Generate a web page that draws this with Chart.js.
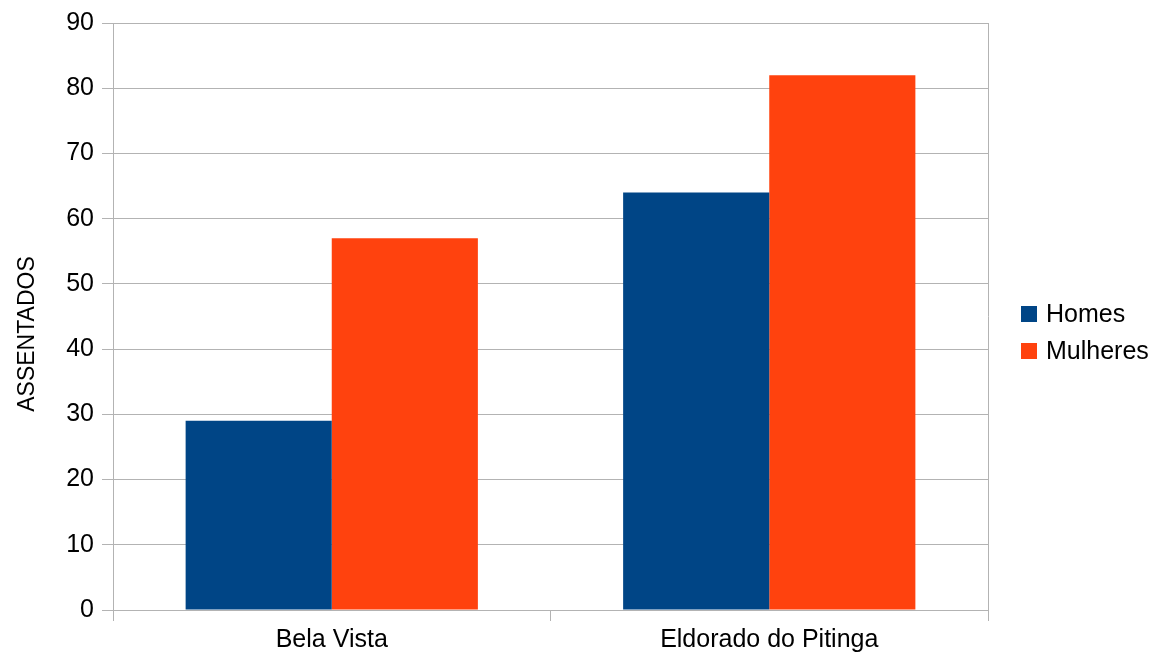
<!DOCTYPE html>
<html>
<head>
<meta charset="utf-8">
<title>Assentados</title>
<script src="https://cdn.jsdelivr.net/npm/chart.js@4.4.1/dist/chart.umd.min.js"></script>
<style>
  html, body { margin: 0; padding: 0; background: #ffffff; }
  #wrap { width: 1160px; height: 661px; position: relative; }
</style>
</head>
<body>
<div id="wrap"><canvas id="chart" width="1160" height="661"></canvas></div>
<script>
// Settlement names and headcounts by sex
const categories = ['Bela Vista', 'Eldorado do Pitinga'];
const homes = [29, 64];
const mulheres = [57, 82];
const seriesNames = ['Homes', 'Mulheres'];
const yTicks = [0, 10, 20, 30, 40, 50, 60, 70, 80, 90];
const axisTitle = 'ASSENTADOS';

const FONT = '"Liberation Sans", Arial, sans-serif';
const GRID = '#b3b3b3';
const COLORS = ['#004586', '#ff420e'];

// Legend on the right, drawn from the dataset list
const sideLegend = {
  id: 'sideLegend',
  afterDraw(chart) {
    const ctx = chart.ctx;
    const x0 = 1021, yc = [314, 351];
    ctx.save();
    ctx.font = '25px ' + FONT;
    ctx.textBaseline = 'middle';
    ctx.textAlign = 'left';
    chart.data.datasets.forEach((ds, i) => {
      ctx.fillStyle = ds.backgroundColor;
      ctx.fillRect(x0, yc[i] - 8, 16, 16);
      ctx.fillStyle = '#000000';
      ctx.fillText(ds.label, x0 + 25, yc[i] + 1);
    });
    ctx.restore();
  }
};

// Vertical axis title
const yTitle = {
  id: 'yTitle',
  afterDraw(chart) {
    const ctx = chart.ctx;
    ctx.save();
    ctx.translate(28, 334);
    ctx.rotate(-Math.PI / 2);
    ctx.font = '23px ' + FONT;
    ctx.fillStyle = '#000000';
    ctx.textAlign = 'center';
    ctx.textBaseline = 'middle';
    ctx.fillText(axisTitle, 0, 0);
    ctx.restore();
  }
};

new Chart(document.getElementById('chart'), {
  type: 'bar',
  data: {
    labels: categories,
    datasets: [
      { label: seriesNames[0], data: homes, backgroundColor: COLORS[0] },
      { label: seriesNames[1], data: mulheres, backgroundColor: COLORS[1] }
    ]
  },
  options: {
    responsive: false,
    animation: false,
    devicePixelRatio: 1,
    layout: { padding: { top: 20.5, right: 172, bottom: 0, left: 0 } },
    datasets: {
      bar: { categoryPercentage: 0.668, barPercentage: 1.0, borderWidth: 0 }
    },
    plugins: {
      legend: { display: false },
      tooltip: { enabled: false },
      title: { display: false }
    },
    scales: {
      x: {
        offset: true,
        grid: {
          offset: true,
          display: true,
          drawOnChartArea: true,
          drawTicks: true,
          tickLength: 11,
          color: (c) => (c.index === 1 ? 'rgba(0,0,0,0)' : GRID),
          tickColor: GRID,
          lineWidth: 1
        },
        border: { display: false },
        ticks: {
          color: '#000000',
          font: { family: FONT, size: 25 },
          padding: 4,
          maxRotation: 0
        },
        afterFit(scale) { scale.height = 51; }
      },
      y: {
        min: 0,
        max: 90,
        afterBuildTicks(scale) { scale.ticks = yTicks.map(v => ({ value: v })); },
        grid: {
          color: GRID,
          tickColor: GRID,
          tickLength: 11,
          lineWidth: 1
        },
        border: { display: true, color: GRID },
        ticks: {
          color: '#000000',
          font: { family: FONT, size: 25 },
          padding: 8
        },
        afterFit(scale) { scale.width = 113; }
      }
    }
  },
  plugins: [sideLegend, yTitle]
});
</script>
</body>
</html>
